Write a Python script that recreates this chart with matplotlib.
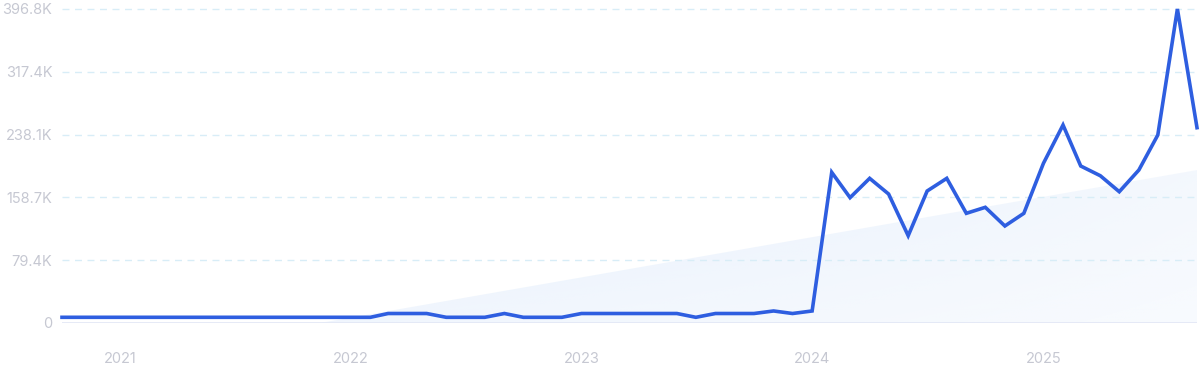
import numpy as np
import pandas as pd
import matplotlib
matplotlib.use('Agg')
import matplotlib.pyplot as plt
import matplotlib.dates as mdates
from matplotlib.colors import to_rgb

# Monthly values, Oct 2020 .. Sep 2025
months = pd.date_range('2020-10-01', '2025-09-01', freq='MS')
values = [
    7.2, 7.2, 7.2,                                   # 2020 Oct-Dec
    7.2, 7.2, 7.2, 7.2, 7.2, 7.2, 7.2, 7.2, 7.2, 7.2, 7.2, 7.2,   # 2021
    7.2, 7.2, 12.0, 12.0, 12.0, 7.2, 7.2, 7.2, 12.0, 7.2, 7.2, 7.2,  # 2022
    12.0, 12.0, 12.0, 12.0, 12.0, 12.0, 7.2, 12.0, 12.0, 12.0, 15.2, 12.0,  # 2023
    15.2, 190.4, 158.4, 182.8, 163.0, 110.3, 166.8, 182.8, 138.6, 146.2, 122.6, 138.6,  # 2024
    201.8, 250.2, 198.4, 186.1, 165.9, 193.3, 237.6, 396.8, 246.8,  # 2025
]
values = np.array(values) * 1000

# trend band: starts at zero mid-Nov 2021, ends near 193K
trend_start = pd.Timestamp('2021-11-13')
trend_end_value = 193300

y_ticks = [0, 79400, 158700, 238100, 317400, 396800]
y_labels = ['0', '79.4K', '158.7K', '238.1K', '317.4K', '396.8K']
year_ticks = pd.to_datetime(['2021-01-01', '2022-01-01', '2023-01-01', '2024-01-01', '2025-01-01'])
year_labels = ['2021', '2022', '2023', '2024', '2025']

plt.rcParams['font.family'] = ['Inter', 'DejaVu Sans']

fig = plt.figure(figsize=(12, 3.72), dpi=100)
ax = fig.add_axes([62 / 1200, 49 / 372, 1135 / 1200, 314 / 372])

xnum = mdates.date2num(months)

# gradient-filled trend area
t0 = mdates.date2num(trend_start)
tx = np.array([t0, xnum[-1]])
ty = np.array([0, trend_end_value])
poly = ax.fill_between(tx, 0, ty, color='none', lw=0)
h, w = 200, 600
gx = np.linspace(0, 1, w)[None, :]
gy = np.linspace(1, 0, h)[:, None]
alpha = np.clip(0.75 * (1 - 0.7 * gx) * (0.5 + 0.5 * gy) + 0.08, 0, 1)
img = np.zeros((h, w, 4))
img[..., :3] = to_rgb('#dae8fb')
img[..., 3] = alpha
im = ax.imshow(img, extent=[xnum[0], xnum[-1], 0, trend_end_value], aspect='auto',
               origin='upper', zorder=1)
im.set_clip_path(poly.get_paths()[0], transform=ax.transData)
ax.set_xlim(xnum[0], xnum[-1])
ax.set_ylim(0, 396800)

# grid
for yt in y_ticks[1:]:
    ax.axhline(yt, color='#d8edf7', lw=1, ls=(0, (5, 4)), zorder=2, clip_on=False)
ax.axhline(0, color='#e3e8f6', lw=2, zorder=2)

ax.plot(xnum, values, color='#2e5ee0', lw=2.6, zorder=3, clip_on=False,
        solid_joinstyle='miter')

for s in ax.spines.values():
    s.set_visible(False)
ax.set_yticks(y_ticks)
ax.set_yticklabels(y_labels)
ax.set_xticks(mdates.date2num(year_ticks))
ax.set_xticklabels(year_labels)
ax.tick_params(axis='both', length=0, colors='#c6c8d2', labelsize=10.5)
ax.tick_params(axis='y', pad=7)
ax.tick_params(axis='x', pad=21)

fig.savefig('out.png', dpi=100)
